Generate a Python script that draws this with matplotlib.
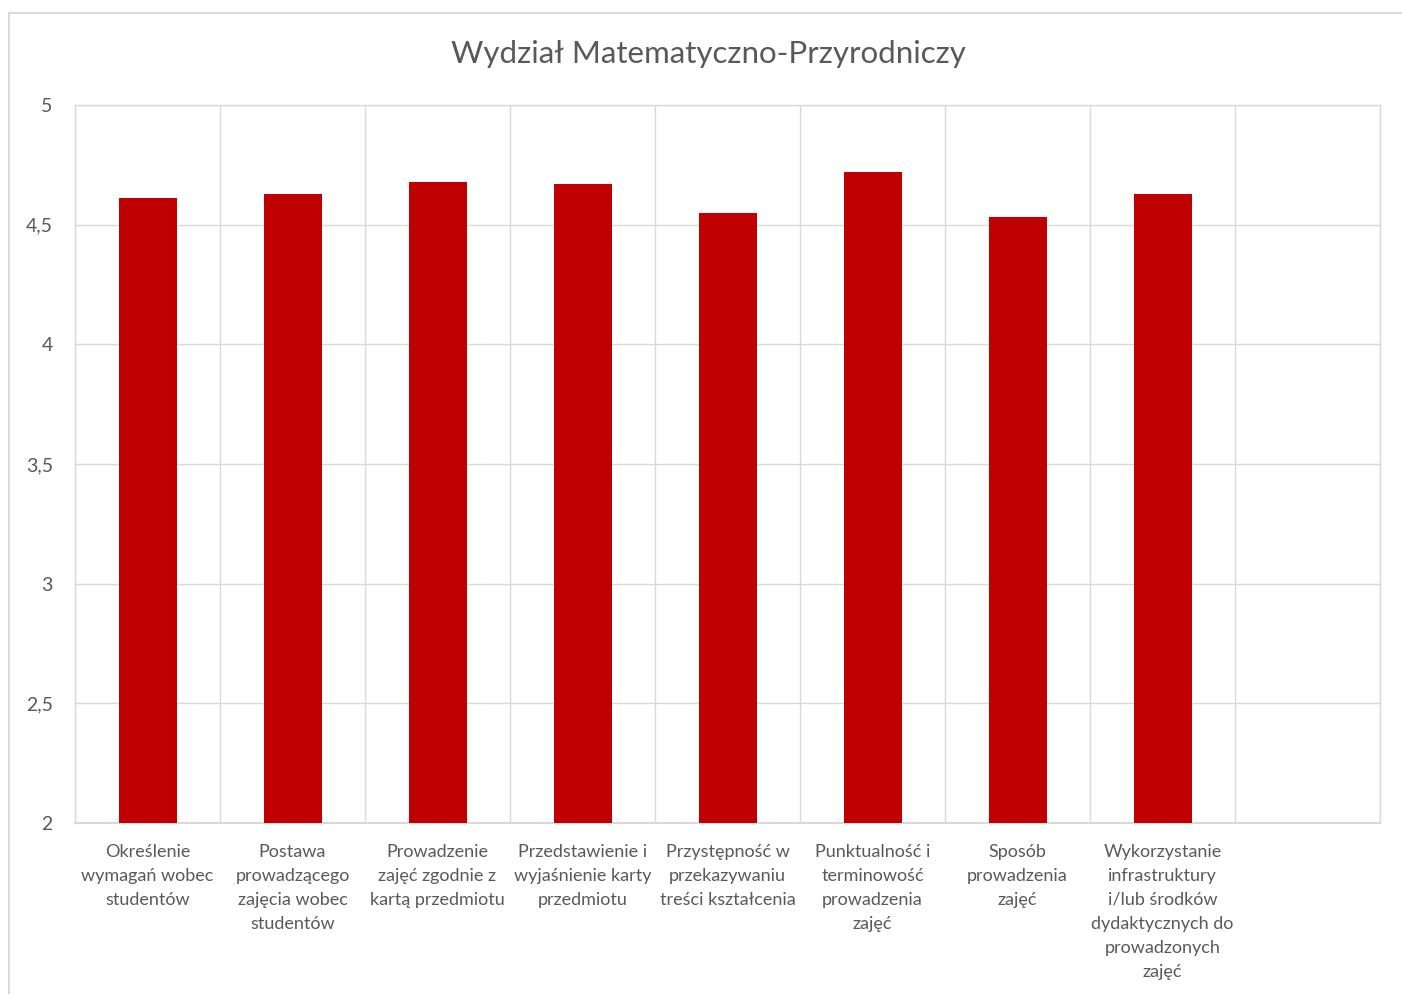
import matplotlib
matplotlib.use("Agg")
import matplotlib.pyplot as plt
from matplotlib.patches import Rectangle
from matplotlib.ticker import FixedLocator, FuncFormatter

# -----------------------------
# Data
# -----------------------------
title = "Wydział Matematyczno-Przyrodniczy"
categories = [
    "Określenie\nwymagań wobec\nstudentów",
    "Postawa\nprowadzącego\nzajęcia wobec\nstudentów",
    "Prowadzenie\nzajęć zgodnie z\nkartą przedmiotu",
    "Przedstawienie i\nwyjaśnienie karty\nprzedmiotu",
    "Przystępność w\nprzekazywaniu\ntreści kształcenia",
    "Punktualność i\nterminowość\nprowadzenia\nzajęć",
    "Sposób\nprowadzenia\nzajęć",
    "Wykorzystanie\ninfrastruktury\ni/lub środków\ndydaktycznych do\nprowadzonych\nzajęć",
]
values = [4.61, 4.63, 4.68, 4.67, 4.55, 4.72, 4.53, 4.63]
n_slots = 9  # one empty category slot on the right
y_ticks = [2, 2.5, 3, 3.5, 4, 4.5, 5]

# -----------------------------
# Style
# -----------------------------
plt.rcParams["font.family"] = ["Lato", "DejaVu Sans"]
text_color = "#595959"
grid_color = "#d9d9d9"
bar_color = "#c00000"

fig = plt.figure(figsize=(14.02, 9.94), dpi=100)
fig.patches.append(
    Rectangle((9 / 1402, -0.01), 1.1, 1 - 13 / 994 + 0.01,
              transform=fig.transFigure, fill=False,
              edgecolor="#d9d9d9", linewidth=1.5)
)

ax = fig.add_axes([75 / 1402, 1 - 823 / 994, (1380 - 75) / 1402, (823 - 105) / 994])

x = list(range(len(categories)))
ax.bar(x, values, width=0.4, color=bar_color, zorder=3)

ax.set_xlim(-0.5, n_slots - 0.5)
ax.set_ylim(2, 5)

ax.set_yticks(y_ticks)
ax.yaxis.set_major_formatter(FuncFormatter(lambda v, p: f"{v:g}".replace(".", ",")))
ax.set_xticks(x)
ax.set_xticklabels(categories, fontsize=13, color=text_color, linespacing=1.62, va="top")
ax.xaxis.set_minor_locator(FixedLocator([i - 0.5 for i in range(n_slots + 1)]))

ax.tick_params(axis="x", which="both", length=0, pad=15)
ax.tick_params(axis="y", length=0, pad=16, labelsize=14, labelcolor=text_color)

ax.grid(axis="y", which="major", color=grid_color, linewidth=1, zorder=0)
ax.grid(axis="x", which="minor", color=grid_color, linewidth=1, zorder=0)
for side in ["top", "left", "right", "bottom"]:
    ax.spines[side].set_color(grid_color)
    ax.spines[side].set_linewidth(1)
ax.spines["bottom"].set_linewidth(1.5)

fig.text(708 / 1402, 1 - 54 / 994, title, ha="center", va="center",
         fontsize=22.5, color=text_color)

fig.savefig("out.png", dpi=100)
